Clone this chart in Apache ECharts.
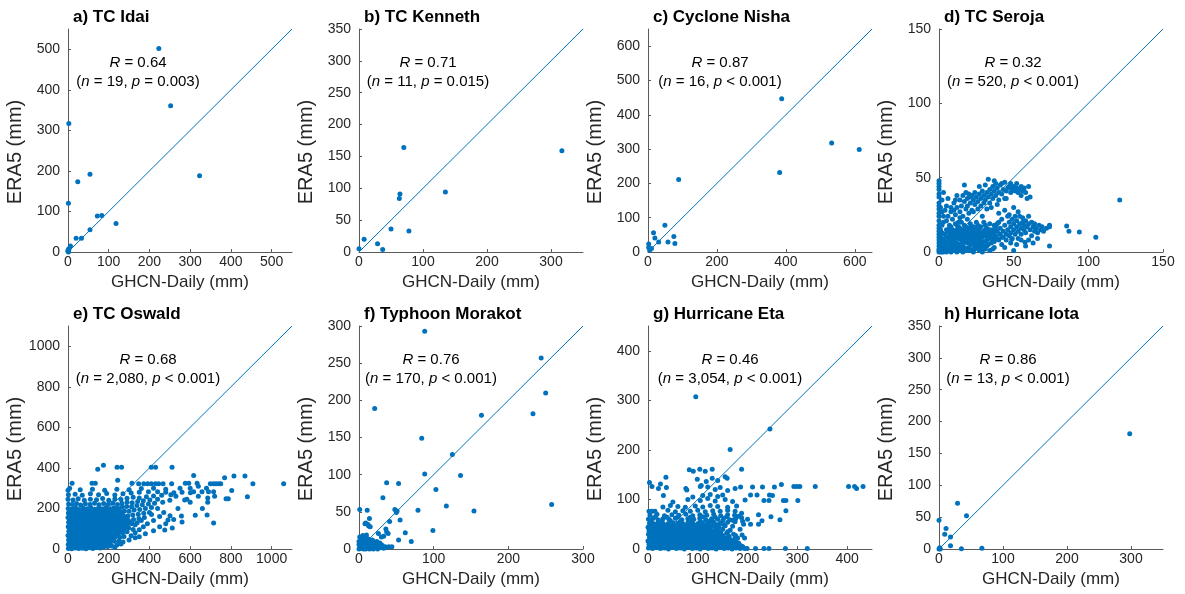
<!DOCTYPE html>
<html>
<head>
<meta charset="utf-8">
<script src="https://cdn.jsdelivr.net/npm/echarts@6/dist/echarts.min.js"></script>
<style>
  html, body { margin: 0; padding: 0; background: #fff; }
  #chart { width: 1185px; height: 594px; }
</style>
</head>
<body>
<div id="chart"></div>
<script>
// panel titles and statistics
const titles = ['a) TC Idai', 'b) TC Kenneth', 'c) Cyclone Nisha', 'd) TC Seroja',
  'e) TC Oswald', 'f) Typhoon Morakot', 'g) Hurricane Eta', 'h) Hurricane Iota']
const rValues = ['0.64', '0.71', '0.87', '0.32', '0.68', '0.76', '0.46', '0.86']
const nValues = ['19', '11', '16', '520', '2,080', '170', '3,054', '13']
const pValues = ['= 0.003', '= 0.015', '< 0.001', '< 0.001', '< 0.001', '< 0.001', '< 0.001', '< 0.001']

// axis range (same on x and y) and tick labels per panel
const axisMax = [550, 350, 650, 150, 1100, 300, 450, 350]
const xTicks = [
  [0, 100, 200, 300, 400, 500], [0, 100, 200, 300], [0, 200, 400, 600], [0, 50, 100, 150],
  [0, 200, 400, 600, 800, 1000], [0, 100, 200, 300], [0, 100, 200, 300, 400], [0, 100, 200, 300]
]
const yTicks = [
  [0, 100, 200, 300, 400, 500], [0, 50, 100, 150, 200, 250, 300, 350], [0, 100, 200, 300, 400, 500, 600], [0, 50, 100, 150],
  [0, 200, 400, 600, 800, 1000], [0, 50, 100, 150, 200, 250, 300], [0, 100, 200, 300, 400], [0, 50, 100, 150, 200, 250, 300, 350]
]

// [GHCN-Daily, ERA5] in mm
const idai = [[223,502],[252,361],[323,188],[2,317],[24,173],[54,192],[1,120],[72,89],[83,90],[118,70],
  [54,55],[20,34],[33,34],[6,15],[2,6],[0,2],[1,0],[2,8],[0,4]]
const kenneth = [[317,159],[70,164],[64,91],[63,84],[135,94],[50,36],[78,33],[8,20],[29,13],[37,4],[0,5]]
const nisha = [[388,447],[382,232],[533,318],[613,299],[89,211],[49,78],[16,56],[20,41],[31,29],[58,29],
  [75,45],[78,25],[2,23],[2,13],[5,5],[10,10]]
const seroja = [
  [0,48],[0,46],[0,44],[0,42],[0,39],[0,37],[0,33],[0,31],[0,29],[0,26],[0,24],[0,21],[0,18],[0,16],[0,14],
  [0,12],[0,10],[0,8],[0,6],[0,4],[0,2],[0,1],[0,0],[1,0],[1,3],[1,7],[1,11],[1,15],[2,2],[2,5],[2,9],[2,13],
  [3,1],[3,4],[3,20],[1,30],[2,27],[2,18],[3,24],[4,28],[2,35],[5,31],[3,40],[6,36],
  [5,21],[6,24],[7,18],[8,27],[9,22],[10,28],[10,33],[11,25],[12,38],[12,30],[13,20],[14,35],[14,27],[15,31],
  [16,38],[16,24],[17,45],[17,34],[18,29],[19,36],[19,31],[20,26],[20,39],[21,33],[22,38],[22,28],[23,35],
  [24,32],[24,40],[25,37],[26,29],[26,34],[27,39],[28,36],[28,31],[29,41],[30,38],[30,33],[31,35],[32,40],
  [32,29],[33,49],[33,37],[34,42],[34,33],[35,39],[36,44],[36,36],[37,41],[38,46],[38,38],[39,43],[40,40],
  [40,35],[41,45],[42,39],[43,42],[44,47],[44,36],[45,41],[46,43],[47,44],[48,40],[49,42],[50,44],[51,41],
  [52,43],[53,40],[54,42],[55,44],[56,41],[57,43],[60,44],[59,36],[61,37],[58,40],
  [8,30],[11,35],[14,23],[18,40],[21,37],[23,27],[27,44],[29,24],[31,45],[35,30],[37,48],[39,32],[42,46],
  [45,36],[48,46],[52,46],[55,38],[40,26],[44,28],[50,30],[53,27],[47,25],
  [3,8],[4,12],[4,3],[5,6],[5,15],[6,1],[6,10],[7,4],[7,13],[8,7],[8,17],[8,2],[9,11],[9,5],[10,14],[10,1],
  [10,8],[11,19],[11,4],[12,11],[12,6],[12,15],[13,2],[13,9],[13,17],[14,13],[14,5],[15,8],[15,20],[15,11],
  [16,3],[16,15],[17,7],[17,12],[17,18],[18,1],[18,10],[18,14],[19,6],[19,22],[20,9],[20,16],[20,3],[21,12],
  [21,19],[22,5],[22,8],[22,14],[23,11],[23,17],[24,2],[24,7],[24,13],[25,10],[25,20],[26,4],[26,15],[27,8],
  [27,12],[28,17],[28,6],[29,10],[29,3],[30,14],[30,20],[31,7],[31,11],[32,16],[32,4],[33,9],[33,13],[34,19],
  [35,6],[35,12],[36,15],[36,9],[37,3],[38,11],[38,17],[39,14],[40,8],[40,20],[41,12],[41,16],[42,5],[42,22],
  [43,10],[43,14],[44,18],[45,12],[45,8],[46,15],[46,24],[47,20],[47,11],[48,17],[48,13],[49,9],[49,22],
  [50,15],[50,19],[51,12],[51,24],[52,17],[52,21],[53,14],[53,9],[54,19],[54,24],[55,16],[55,12],[56,20],
  [56,23],[57,15],[57,18],[58,21],[58,13],[59,17],[60,19],[60,24],[61,15],[62,20],[62,11],[63,17],[64,14],
  [64,19],[65,16],[66,13],[67,18],[68,15],[69,17],[70,14],[72,16],[74,18],[74,17],[74,4],[85.5,17.5],[87,14],
  [94,13.5],[105,10],[121,35],[1,1],[2,0],[3,0],[4,1],[5,0],[6,3],[7,1],[8,0],[9,2],[11,1],[12,0],[14,1],
  [15,3],[16,0],[19,2],[21,1],[23,0],[25,3],[27,1],[29,0],[31,2],[34,1],[36,2],
  [44,3],[48,6],[52,5],[55,8],[58,4],[60,8],[63,6],[66,9],[50,1],[57.6,6.5],[48.7,8.5],[42,10],
  [4,6],[5,10],[6,14],[6,7],[7,9],[7,16],[8,4],[8,12],[9,8],[9,15],[10,5],[10,11],[11,9],[11,13],[12,3],[12,18],
  [13,5],[13,12],[14,9],[14,16],[15,1],[15,14],[16,6],[16,10],[17,3],[17,15],[18,7],[18,17],[19,11],[19,14],
  [20,1],[20,12],[21,6],[21,9],[22,11],[22,17],[23,2],[23,8],[24,5],[24,16],[25,7],[25,13],[26,11],[26,18],
  [27,5],[27,15],[28,2],[28,10],[29,13],[29,7],[30,4],[30,11],[31,15],[31,18],[32,8],[32,12],[33,5],[34,10],
  [34,15],[35,9],[36,12],[37,7],[37,18],[38,14],[39,9],[39,19]
]
const oswald = [
  [2,3],[18,1],[35,5],[52,2],[70,4],[88,1],[105,6],[122,3],[140,8],[158,5],[175,10],[195,12],[215,15],
  [1,22],[15,25],[32,18],[48,27],[66,20],[83,24],[101,19],[118,28],[136,21],[153,26],[172,30],[190,25],[208,33],[228,38],[250,40],
  [3,45],[20,42],[37,48],[55,40],[72,47],[90,43],[108,50],[125,41],[143,46],[160,52],[178,44],[197,49],[215,55],[233,60],[255,58],[275,62],
  [0,66],[17,63],[34,69],[51,61],[68,67],[86,64],[103,70],[121,62],[139,68],[156,65],[174,71],[192,66],[210,73],[229,69],[247,75],[268,80],[290,85],
  [4,88],[22,85],[40,91],[57,83],[75,89],[92,86],[110,92],[128,84],[146,90],[163,87],[181,93],[199,85],[218,91],[236,88],[254,94],[273,98],[298,104],[320,96],
  [1,110],[19,107],[36,113],[53,105],[71,111],[89,108],[107,114],[124,106],[142,112],[160,109],[177,115],[195,107],[214,113],[232,110],[250,116],[270,120],[292,118],[315,124],[340,130],
  [3,132],[20,129],[38,135],[56,127],[74,133],[92,130],[109,136],[127,128],[145,134],[163,131],[181,137],[199,129],[217,135],[236,132],[254,138],[275,142],[297,140],[322,146],[348,150],[375,155],
  [0,155],[18,152],[35,158],[52,150],[70,156],[88,153],[106,159],[123,151],[141,157],[159,154],[177,160],[195,152],[214,158],[232,155],[251,161],[272,165],[294,163],[318,168],[345,172],[372,176],[400,180],
  [2,178],[20,175],[38,181],[55,173],[73,179],[91,176],[109,182],[127,174],[145,180],[162,177],[180,183],[198,175],[217,181],[236,178],[255,184],[277,188],[300,186],[325,192],[352,195],[380,200],[410,205],
  [1,200],[19,197],[37,203],[56,195],[75,201],[94,198],[112,204],[131,196],[150,202],[169,199],[188,205],[207,197],[226,203],[246,200],[266,206],[288,210],[312,208],[338,214],[365,218],[395,222],[425,226],
  [3,222],[22,219],[42,225],[62,217],[85,223],[108,220],[130,226],[152,218],[175,224],[198,221],[220,227],[243,219],[265,225],[290,230],[315,228],[342,234],[370,238],[402,242],[440,246],
  [0,245],[25,242],[50,248],[80,240],[110,246],[140,243],[170,249],[200,241],[230,247],[260,244],[290,250],[320,255],[350,252],[385,258],[420,262],[460,265],[505,268],
  [2,268],[35,270],[70,265],[110,272],[150,268],[190,274],[230,266],[270,272],[310,276],[350,280],[395,283],[440,283],[480,280],[520,277],
  [0,290],[8,300],[60,292],[120,295],[180,290],[240,295],[300,292],[360,298],[420,300],[480,295],[550,300],
  [10,12],[27,14],[44,10],[61,13],[79,11],[96,14],[113,10],[131,13],[148,15],[166,17],[185,18],[205,22],
  [8,34],[25,36],[42,31],[60,35],[77,32],[94,37],[112,33],[130,36],[148,33],[166,38],[185,36],[203,42],[220,45],
  [9,56],[26,54],[43,58],[60,53],[77,57],[95,55],[112,59],[130,54],[148,57],[166,60],[185,58],[203,62],[222,65],[240,66],
  [9,77],[26,75],[43,79],[60,74],[78,78],[96,76],[114,80],[132,75],[150,79],[168,77],[186,81],[205,78],[224,82],[242,80],[262,86],
  [10,99],[28,97],[46,101],[64,96],[82,100],[100,98],[118,102],[136,97],[154,101],[172,99],[190,103],[208,97],[227,101],[245,99],[264,105],[283,108],
  [10,121],[28,118],[46,123],[64,117],[82,122],[100,119],[118,124],[136,118],[154,123],[172,120],[190,125],[208,118],[227,123],[245,121],[263,127],[283,130],[305,132],
  [9,143],[28,141],[46,146],[64,140],[82,145],[100,142],[118,147],[136,141],[154,146],[172,143],[190,148],[208,141],[227,146],[245,144],[264,150],[285,153],
  [9,166],[28,163],[46,168],[64,162],[82,167],[100,164],[118,169],[136,163],[154,168],[172,165],[190,170],[208,163],[227,169],[245,166],[264,172],
  [10,189],[28,186],[46,191],[64,185],[82,190],[100,187],[118,192],[136,186],[154,191],[172,188],[190,193],[210,187],[230,192],[250,190],
  [20,324],[118,324],[134,324],[347,322],[372,322],[391,322],[409,322],[429,322],[445,322],[467,322],[509,322],[576,324],
  [593,324],[634,324],[699,322],[715,322],[727,322],[740,322],[750,322],[908,322],[1059,322],[244,339],[314,324],
  [146,393],[174,413],[241,403],[263,403],[409,403],[430,403],[511,403],
  [617,363],[769,352],[815,360],[869,360],[881,258],[804,289],[787,248],[776,248],[690,283],[715,283],[658,283],
  [686,252],[686,230],[683,168],[715,128],[625,166],[660,200],[617,283],[601,278],[584,245],[573,242],[557,163],
  [560,133],[519,146],[512,104],[475,94],[491,143],[501,164],
  [310,65],[330,80],[350,95],[370,110],[390,125],[420,140],[450,160],[470,180],[330,120],[360,140],[410,170],
  [440,200],[465,230],[500,240],[530,260],[560,280],[600,300],[640,310],[680,300],[350,60],[380,75],[420,90],
  [450,110],[480,125],[540,200],[600,230],[640,260],[720,260],[240,20],[270,35],[300,45],[330,55],[230,8],[260,25]
]
const morakot = [
  [88,293],[244,257],[250,210],[233,182],[164,180],[21,189],[84,149],[125,127],[88,101],[136,99],[37,89],[53,88],
  [32,69],[103,80],[79,52],[117,58],[154,51],[258,60],[1,53],[11,52],[14,41],[48,53],[50,49],[51,51],[55,39],
  [41,37],[8,34],[9,35],[13,31],[99,25],[62,22],[53,12],[70,10],[36,27],[37,23],[26,21],[30,16],[33,17],[28,8],
  [1,16],[7,17],[39,21],[40,3],[44,3],[12,33],[15,30],
  [0,0],[1,2],[2,5],[3,1],[4,8],[5,3],[6,11],[7,6],[8,1],[9,4],[10,9],[11,14],[12,2],[13,7],[14,4],[15,10],
  [16,1],[17,5],[18,12],[19,3],[20,7],[21,2],[22,9],[23,4],[24,1],[26,6],[27,3],[29,2],[31,5],[33,1],[35,3],
  [3,12],[2,14],[5,18],[8,16],[10,19],[0,6],[0,10],[1,8],[6,0],[9,0],[14,0],[19,0],[25,0],[2,1],[4,4],[11,5],
  [15,6],[17,2],[20,4],[36,2],[24,10],[13,13]
]
const eta = [
  [1,2],[9,1],[17,3],[25,1],[33,2],[41,0],[49,3],[57,1],[65,2],[73,0],[81,3],[89,1],[97,2],[105,0],[113,3],[121,1],
  [129,2],[137,0],[145,3],[153,1],[161,2],[169,0],[177,2],[185,1],[194,1],[199,1],[216,1],[233,1],[243,1],[276,1],[320,1],
  [5,5],[13,6],[21,4],[29,5],[37,6],[45,4],[53,5],[61,6],[69,4],[77,5],[85,6],[93,4],[101,5],[109,6],[117,4],[125,5],
  [133,6],[141,4],[149,5],[157,6],[165,4],[173,5],[181,4],[190,5],
  [2,9],[10,8],[18,10],[26,9],[34,8],[42,10],[50,9],[58,8],[66,10],[74,9],[82,8],[90,10],[98,9],[106,8],[114,10],
  [122,9],[130,8],[138,10],[146,9],[154,8],[162,10],[170,9],[178,8],[186,7],
  [4,12],[12,13],[20,11],[28,12],[36,13],[44,11],[52,12],[60,13],[68,11],[76,12],[84,13],[92,11],[100,12],[108,13],
  [116,11],[124,12],[132,13],[140,11],[148,12],[156,13],[164,11],[172,12],[182,12],
  [0,16],[8,15],[16,17],[24,16],[32,15],[40,17],[48,16],[56,15],[64,17],[72,16],[80,15],[88,17],[96,16],[104,15],
  [112,17],[120,16],[128,15],[136,17],[144,16],[152,15],[160,17],[168,14],[176,16],
  [6,19],[14,20],[22,18],[30,19],[38,20],[46,18],[54,19],[62,20],[70,18],[78,19],[86,20],[94,18],[102,19],[110,20],
  [118,18],[126,19],[134,20],[142,18],[150,19],[158,20],[166,18],[174,20],
  [3,23],[11,22],[19,24],[27,23],[35,22],[43,24],[51,23],[59,22],[67,24],[75,23],[83,22],[91,24],[99,23],[107,22],
  [115,24],[123,23],[131,22],[139,24],[147,23],[155,22],[163,24],[180,22],[189,28],[194,22],
  [5,27],[13,26],[21,27],[29,26],[37,27],[45,26],[53,27],[61,26],[69,27],[77,26],[85,27],[93,26],[101,27],[109,26],
  [117,27],[125,26],[133,27],[141,26],[150,27],[162,26],[176,27],
  [1,30],[9,29],[17,31],[25,30],[33,29],[41,31],[49,30],[57,29],[65,31],[73,30],[81,29],[89,31],[97,30],[105,29],
  [113,31],[121,30],[129,29],[137,31],[145,30],[158,32],[172,30],
  [5,34],[13,33],[21,34],[29,33],[37,34],[45,33],[53,34],[61,33],[69,34],[77,33],[85,34],[93,33],[101,34],[109,33],
  [117,34],[125,33],[134,34],[146,34],[160,35],
  [2,37],[10,36],[18,38],[26,37],[34,36],[42,38],[50,37],[58,36],[66,38],[74,37],[82,36],[90,38],[98,37],[106,36],
  [114,38],[122,37],[130,36],[140,38],[150,40],[165,38],[185,40],
  [4,41],[12,40],[20,41],[28,40],[36,41],[44,40],[52,41],[60,40],[68,41],[76,40],[84,41],[92,40],[100,41],[108,40],
  [116,41],[125,41],[136,41],
  [0,44],[8,43],[16,45],[24,44],[32,43],[40,45],[48,44],[56,43],[64,45],[72,44],[80,43],[88,45],[96,44],[104,43],
  [112,45],[120,44],[130,46],[142,44],[155,47],[170,46],[192,50],[206,50],
  [6,48],[15,47],[25,48],[35,47],[45,48],[55,47],[65,48],[75,47],[85,48],[95,47],[105,48],[115,47],[125,48],[138,49],[150,50],
  [3,52],[12,51],[21,53],[30,52],[40,51],[50,53],[60,52],[70,51],[80,53],[90,52],[100,51],[110,53],[120,52],[132,54],
  [145,52],[160,54],[175,55],[190,56],[222,50],[229,57],
  [7,56],[25,56],[45,57],[65,56],[85,57],[105,56],[125,57],[150,57],[170,58],
  [1,60],[10,62],[20,59],[30,61],[42,60],[55,62],[68,59],[80,61],[92,60],[104,62],[116,59],[128,61],[140,60],[152,62],
  [164,59],[176,61],[188,63],[200,60],[265,59],[222,69],
  [15,65],[38,64],[60,65],[85,64],[110,65],[135,64],[158,65],[182,66],
  [4,68],[18,70],[33,67],[48,69],[62,68],[76,70],[90,67],[104,69],[118,68],[132,70],[146,67],[160,69],[174,68],[188,72],[247,65],
  [2,76],[8,76],[14,76],[40,78],[55,75],[70,77],[85,76],[100,78],[115,75],[130,77],[145,76],[160,78],[175,76],[277,77],
  [30,85],[45,88],[60,86],[75,84],[95,87],[110,85],[125,88],[140,86],[160,84],[178,87],
  [50,95],[80,100],[105,98],[120,102],[135,97],[155,100],[170,96],[195,99],[233,98],[243,98],[272,98],[277,98],[301,98],
  [31,108],[90,105],[110,108],[125,110],[140,106],[150,109],[206,109],[219,109],[244,109],[250,108],
  [3,134],[8,126],[25,131],[21,122],[37,124],[76,122],[78,119],[105,126],[107,128],[120,125],[135,120],[145,124],
  [160,118],[175,122],[186,125],[254,125],[268,130],[293,126],[299,126],[305,126],[336,126],[403,126],[415,126],
  [419,122],[432,126],[230,125],[210,125],
  [36,145],[99,141],[129,143],[155,146],[159,143],[117,136],[140,138],
  [83,160],[91,157],[104,161],[129,161],[188,161],[115,157],
  [96,307],[245,242],[165,201]
]
const iota = [[298,181],[29,72],[43,52],[0,45],[11,32],[9,23],[18,19],[18,5],[35,0.5],[67,1],[0,0],[1,2],[2,0]]

const panels = [idai, kenneth, nisha, seroja, oswald, morakot, eta, iota]

const blue = '#0072BD'
const ink = '#262626'
const axisGray = '#5a5a5a'
const font = 'Liberation Sans, Arial, Helvetica, sans-serif'
const gridLeft = [68, 359, 648, 939]
const gridTop = [29, 326]
const textOffset = [70, 69, 72, 74, 80, 72, 82, 69]

const grids = [], xAxes = [], yAxes = [], series = [], titleList = [], graphics = []
panels.forEach((pts, i) => {
  const left = gridLeft[i % 4]
  const top = gridTop[Math.floor(i / 4)]
  const m = axisMax[i]
  grids.push({ left: left, top: top, width: 224, height: 223 })
  const axisCommon = {
    type: 'value', gridIndex: i, min: 0, max: m,
    splitLine: { show: false },
    axisLine: { show: true, lineStyle: { color: axisGray, width: 1 } }
  }
  xAxes.push(Object.assign({}, axisCommon, {
    name: 'GHCN-Daily (mm)', nameGap: 22, nameLocation: 'middle',
    nameTextStyle: { fontSize: 17, color: ink, fontFamily: font },
    axisTick: { inside: true, length: 3, customValues: xTicks[i], lineStyle: { color: axisGray } },
    axisLabel: { customValues: xTicks[i], fontSize: 14, color: ink, fontFamily: font, margin: 3, formatter: v => String(v) }
  }))
  yAxes.push(Object.assign({}, axisCommon, {
    axisTick: { inside: true, length: 3, customValues: yTicks[i], lineStyle: { color: axisGray } },
    axisLabel: { customValues: yTicks[i], fontSize: 14, color: ink, fontFamily: font, margin: 8, formatter: v => String(v) }
  }))
  // 1:1 line first so the dots sit on top of it
  series.push({
    type: 'line', xAxisIndex: i, yAxisIndex: i, data: [[0, 0], [m, m]],
    symbol: 'none', lineStyle: { color: blue, width: 1 }, silent: true
  })
  series.push({
    type: 'scatter', xAxisIndex: i, yAxisIndex: i, data: pts,
    symbolSize: 5, itemStyle: { color: blue, opacity: 1 }
  })
  titleList.push({
    text: titles[i], left: left, top: top - 25,
    textStyle: { fontSize: 17, fontWeight: 'bold', color: '#000', fontFamily: font }
  })
  // y-axis label, a bit larger than the x one as in the figure
  graphics.push({
    type: 'text', x: left - 53, y: top + 123, rotation: Math.PI / 2,
    style: { text: 'ERA5 (mm)', fontSize: 20, fontFamily: font, fill: ink, align: 'center', verticalAlign: 'middle' }
  })
  const cx = left + textOffset[i]
  const rich = {
    i: { fontStyle: 'italic', fontSize: 15, fontFamily: font, fill: '#000' },
    t: { fontSize: 15, fontFamily: font, fill: '#000' }
  }
  graphics.push({
    type: 'text', x: cx, y: top + 34,
    style: { text: '{i|R}{t| = ' + rValues[i] + '}', rich: rich, align: 'center', verticalAlign: 'middle', fontSize: 15, fontFamily: font, fill: '#000' }
  })
  graphics.push({
    type: 'text', x: cx, y: top + 53,
    style: {
      text: '{t|(}{i|n}{t| = ' + nValues[i] + ', }{i|p}{t| ' + pValues[i] + ')}',
      rich: rich, align: 'center', verticalAlign: 'middle', fontSize: 15, fontFamily: font, fill: '#000'
    }
  })
})

const chart = echarts.init(document.getElementById('chart'), null, { renderer: 'canvas' })
chart.setOption({
  animation: false,
  backgroundColor: '#fff',
  title: titleList,
  grid: grids,
  xAxis: xAxes,
  yAxis: yAxes,
  series: series,
  graphic: graphics
})
</script>
</body>
</html>
